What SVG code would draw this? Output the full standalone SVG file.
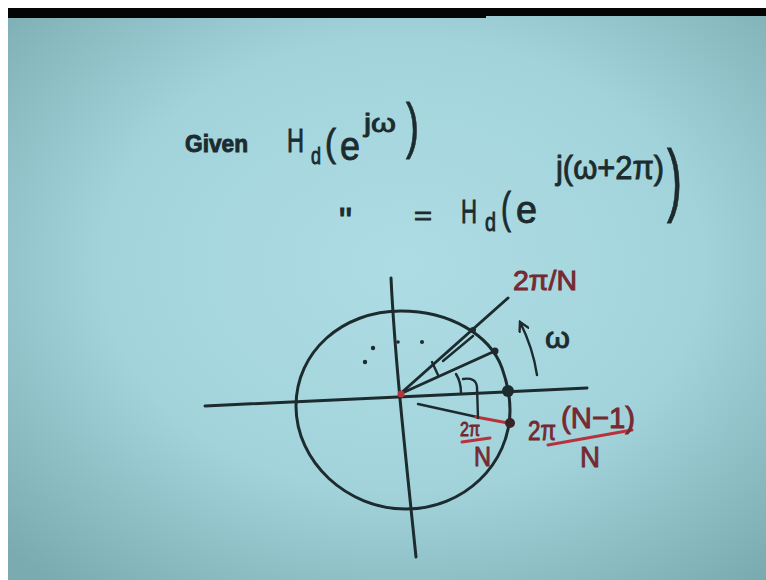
<svg xmlns="http://www.w3.org/2000/svg" width="766" height="580" viewBox="0 0 766 580">
<defs>
<radialGradient id="bg" cx="0.52" cy="0.45" r="0.72">
<stop offset="0" stop-color="#aedce4"/>
<stop offset="0.55" stop-color="#a2d3db"/>
<stop offset="1" stop-color="#7aabb0"/>
</radialGradient>
<marker id="ah" viewBox="0 0 12 12" refX="10" refY="6" markerWidth="12" markerHeight="12" markerUnits="userSpaceOnUse" orient="auto">
<path d="M1,1 L10,6 L1,11" fill="none" stroke="#1c2b2e" stroke-width="2.4" stroke-linecap="round"/>
</marker>
<style>
.ink{fill:none;stroke:#1c2b2e;stroke-width:3;stroke-linecap:round;stroke-linejoin:round}
.thin{fill:none;stroke:#1c2b2e;stroke-width:2.4;stroke-linecap:round}
.red{fill:none;stroke:#b8323c;stroke-width:3;stroke-linecap:round}
.t{font-family:"Liberation Sans",Arial,sans-serif;fill:#1c2b2e;stroke:#1c2b2e;stroke-width:0.9}
.r{font-family:"Liberation Sans",Arial,sans-serif;fill:#7e2a33;stroke:#6e2630;stroke-width:0.9}
.dot{fill:#1c2b2e}
</style>
</defs>
<rect x="0" y="0" width="766" height="580" fill="#ffffff"/>
<rect x="8" y="8" width="758" height="572" fill="url(#bg)"/>
<rect x="8" y="8" width="478" height="10" fill="#050505"/>
<rect x="486" y="8" width="280" height="8" fill="#050505"/>

<g id="equation-1">
<text class="t" x="185" y="152" font-size="24" font-weight="bold" textLength="63" lengthAdjust="spacingAndGlyphs">Given</text>
<text class="t" x="287" y="152" font-size="34" textLength="17" lengthAdjust="spacingAndGlyphs">H</text>
<text class="t" x="311" y="164" font-size="24" textLength="10" lengthAdjust="spacingAndGlyphs">d</text>
<text class="t" x="325" y="156" font-size="38" textLength="11" lengthAdjust="spacingAndGlyphs">(</text>
<text class="t" x="340" y="160" font-size="40" textLength="20" lengthAdjust="spacingAndGlyphs">e</text>
<text class="t" x="364" y="132" font-size="26" textLength="32" lengthAdjust="spacingAndGlyphs">jω</text>
<text class="t" x="406" y="146" font-size="62" textLength="13" lengthAdjust="spacingAndGlyphs">)</text>
</g>

<g id="equation-2">
<text class="t" x="339" y="234" font-size="36" textLength="13" lengthAdjust="spacingAndGlyphs">"</text>
<text class="t" x="414" y="224" font-size="26" textLength="18" lengthAdjust="spacingAndGlyphs">=</text>
<text class="t" x="461" y="223" font-size="34" textLength="16" lengthAdjust="spacingAndGlyphs">H</text>
<text class="t" x="485" y="231" font-size="26" textLength="11" lengthAdjust="spacingAndGlyphs">d</text>
<text class="t" x="501" y="223" font-size="44" textLength="10" lengthAdjust="spacingAndGlyphs">(</text>
<text class="t" x="516" y="223" font-size="38" textLength="21" lengthAdjust="spacingAndGlyphs">e</text>
<text class="t" x="556" y="179" font-size="33" textLength="108" lengthAdjust="spacingAndGlyphs">j(ω+2π)</text>
<text class="t" x="667" y="206" font-size="80" textLength="15" lengthAdjust="spacingAndGlyphs">)</text>
</g>

<g id="unit-circle">
<path class="ink" d="M296,406 C296,352 342,311 401,311 C450,311 490,335 502,368 C507,382 510,396 510,410 C510,464 464,509 406,509 C347,509 296,462 296,406 Z"/>
</g>

<g id="axes">
<path class="ink" d="M205,406 L587,388"/>
<path class="ink" d="M391,278 C395,360 405,450 416,557"/>
</g>

<g id="connectors">
<path class="ink" d="M400,394 L508,298"/>
<path class="ink" d="M400,394 L495,351"/>
<path class="thin" d="M418,404 L477,417"/>
<path class="red" d="M476,417 L508,423"/>
<path class="thin" d="M443,361 L473,336"/>
<path class="thin" d="M432,362 L438,375"/>
<path class="thin" d="M456,374 Q461,382 461,393"/>
<path class="thin" d="M463,379 Q476,377 477,387 L478,418"/>
<path class="thin" d="M537,375 C534,355 528,338 520,322" marker-end="url(#ah)"/>
<path class="red" d="M462,442 L490,438" stroke-width="2.4"/>
<path class="red" d="M548,445 L632,430"/>
</g>

<g id="points">
<circle class="dot" cx="473" cy="330" r="3"/>
<circle class="dot" cx="495" cy="351" r="3.5"/>
<circle class="dot" cx="508" cy="391" r="6"/>
<circle cx="510" cy="423" r="5" fill="#3a2326"/>
<circle cx="401" cy="394" r="3.5" fill="#b8323c"/>
<circle class="dot" cx="365" cy="362" r="2.2"/>
<circle class="dot" cx="373" cy="348" r="2.2"/>
<circle class="dot" cx="398" cy="342" r="1.8"/>
<circle class="dot" cx="422" cy="342" r="2"/>
</g>

<g id="labels">
<text class="r" x="513" y="290" font-size="28" textLength="64" lengthAdjust="spacingAndGlyphs">2π/N</text>
<text class="t" x="545" y="348" font-size="30" textLength="25" lengthAdjust="spacingAndGlyphs">ω</text>
<text class="r" x="460" y="436" font-size="20" textLength="20" lengthAdjust="spacingAndGlyphs">2π</text>
<text class="r" x="474" y="466" font-size="28" textLength="17" lengthAdjust="spacingAndGlyphs">N</text>
<text class="r" x="528" y="440" font-size="28" textLength="28" lengthAdjust="spacingAndGlyphs">2π</text>
<text class="r" x="561" y="428" font-size="30" textLength="74" lengthAdjust="spacingAndGlyphs">(N−1)</text>
<text class="r" x="580" y="467" font-size="30" textLength="20" lengthAdjust="spacingAndGlyphs">N</text>
</g>
</svg>
